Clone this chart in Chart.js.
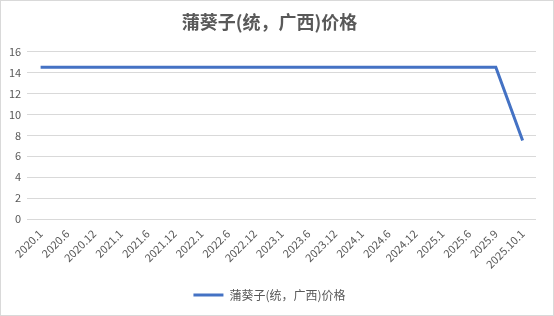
<!DOCTYPE html>
<html><head><meta charset="utf-8">
<script src="https://cdn.jsdelivr.net/npm/chart.js@4.4.0/dist/chart.umd.min.js"></script>
<style>
html,body{margin:0;padding:0;background:#fff;}
#wrap{position:absolute;left:0;top:0;width:552px;height:314px;border:1px solid #d9d9d9;background:#fff;}
</style></head>
<body>
<div id="wrap"><canvas id="c" width="552" height="314"></canvas></div>
<script>
const categories = ["2020.1","2020.6","2020.12","2021.1","2021.6","2021.12","2022.1","2022.6","2022.12","2023.1","2023.6","2023.12","2024.1","2024.6","2024.12","2025.1","2025.6","2025.9","2025.10.1"];
const prices = [14.5,14.5,14.5,14.5,14.5,14.5,14.5,14.5,14.5,14.5,14.5,14.5,14.5,14.5,14.5,14.5,14.5,14.5,7.5];
const seriesName = "蒲葵子(统，广西)价格";
const titleText = "蒲葵子(统，广西)价格";
const yTicks = [0,2,4,6,8,10,12,14,16];

const FONT = "'Microsoft YaHei','Noto Sans CJK SC','Liberation Sans',sans-serif";
new Chart(document.getElementById('c'), {
  type: 'line',
  data: {
    labels: categories,
    datasets: [{
      label: seriesName,
      data: prices,
      borderColor: '#4472C4',
      backgroundColor: '#4472C4',
      borderWidth: 3,
      pointRadius: 0,
      tension: 0,
      fill: false
    }]
  },
  options: {
    responsive: false,
    animation: false,
    layout: { padding: { left: 2, right: 17, top: 4, bottom: 4 } },
    plugins: {
      title: {
        display: true,
        text: titleText,
        color: '#595959',
        font: { family: FONT, size: 18, weight: 'bold' },
        padding: { top: 6, bottom: 19 }
      },
      legend: {
        display: true,
        position: 'bottom',
        labels: {
          color: '#595959',
          font: { family: FONT, size: 12 },
          usePointStyle: true,
          pointStyle: 'line',
          pointStyleWidth: 30,
          padding: 10
        }
      },
      tooltip: { enabled: false }
    },
    scales: {
      x: {
        offset: true,
        grid: { display: false, drawTicks: false },
        border: { display: false },
        ticks: {
          color: '#595959',
          font: { family: FONT, size: 11 },
          minRotation: 45,
          maxRotation: 45,
          autoSkip: false,
          padding: 8
        }
      },
      y: {
        min: 0, max: 16,
        afterBuildTicks: (s) => { s.ticks = yTicks.map(v => ({ value: v })); },
        grid: { color: '#d9d9d9', drawTicks: false },
        border: { display: false },
        ticks: {
          color: '#595959',
          font: { family: FONT, size: 11 },
          padding: 6
        }
      }
    }
  }
});
</script>
</body></html>
